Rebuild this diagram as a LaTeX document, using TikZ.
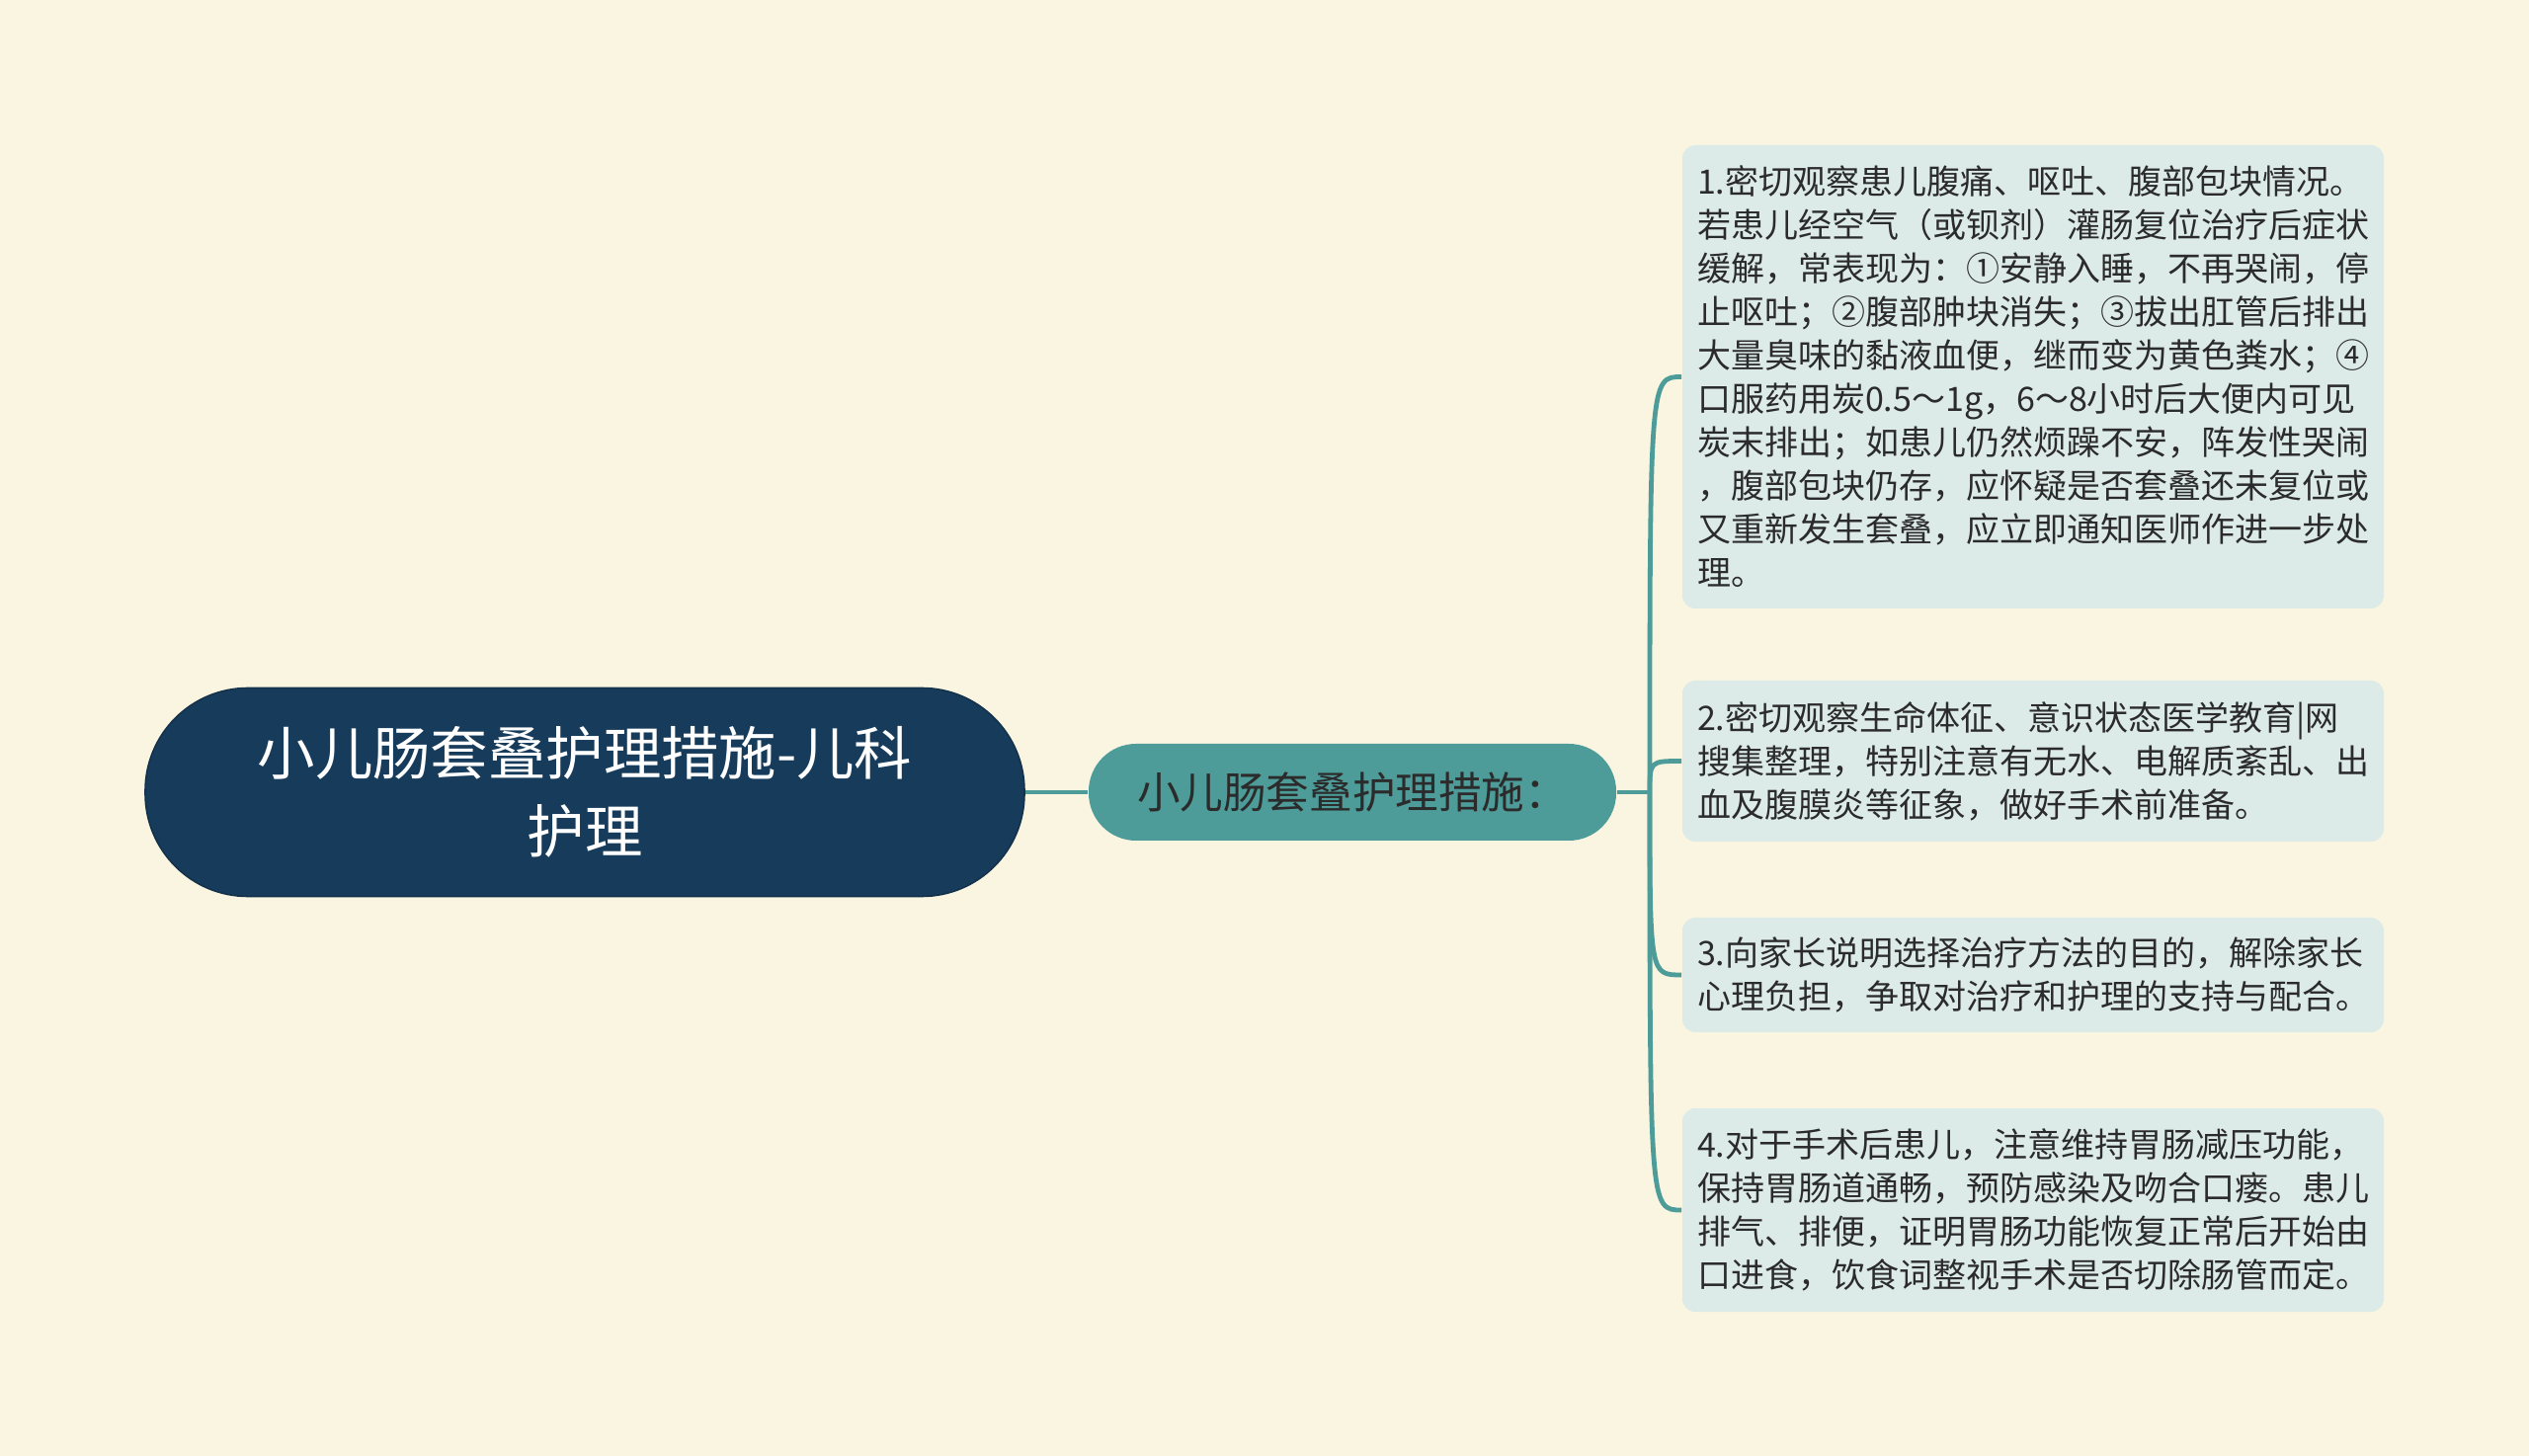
\documentclass[tikz,border=0pt]{standalone}
\usepackage{fontspec}
\newfontfamily\cjk{Noto Sans CJK SC}
\usepackage{tikz}
\definecolor{bgcol}{HTML}{F9F5E0}
\definecolor{rootcol}{HTML}{173B5A}
\definecolor{midcol}{HTML}{4E9C99}
\definecolor{leafcol}{HTML}{DDEBE8}
\definecolor{txtcol}{HTML}{2B2B2B}
\tikzset{rootnode/.style = {draw=rootcol!85!black, fill=rootcol, text=white, rounded corners=26pt,
    minimum width=222.5pt, minimum height=52.75pt, align=center,
    font={\cjk\fontsize{14.6}{19.6}\selectfont}}}
\tikzset{midnode/.style = {fill=midcol, text=txtcol, rounded corners=12pt,
    minimum width=133.5pt, minimum height=24.5pt,
    font={\cjk\fontsize{10.9}{12}\selectfont}}}
\tikzset{leafnode/.style = {fill=leafcol, text=txtcol, rounded corners=3.3pt,
    text width=170pt, inner xsep=3.75pt, align=left,
    font={\cjk\fontsize{8.5}{11}\selectfont}}}
\tikzset{branch/.style = {draw=midcol, line width=1.2pt}}

\begin{document}
\begin{tikzpicture}[x=0.25pt, y=-0.25pt]
    \fill[bgcol] (0,0) rectangle (2560,1474);

    \node[rootnode] (root) at (592,802) {小儿肠套叠护理措施-儿科\\护理};
    \node[midnode] (mid) at (1369,802) {小儿肠套叠护理措施：};
    \coordinate (hub) at (1670,802);

    \node[leafnode, minimum height=117.25pt] (n1) at (2058,381.5) {1.密切观察患儿腹痛、呕吐、腹部包块情况。\\
        若患儿经空气（或钡剂）灌肠复位治疗后症状\\
        缓解，常表现为：①安静入睡，不再哭闹，停\\
        止呕吐；②腹部肿块消失；③拔出肛管后排出\\
        大量臭味的黏液血便，继而变为黄色粪水；④\\
        口服药用炭0.5～1g，6～8小时后大便内可见\\
        炭末排出；如患儿仍然烦躁不安，阵发性哭闹\\
        ，腹部包块仍存，应怀疑是否套叠还未复位或\\
        又重新发生套叠，应立即通知医师作进一步处\\
        理。};
    \node[leafnode, minimum height=40.75pt] (n2) at (2058,770.5) {2.密切观察生命体征、意识状态医学教育|网\\
        搜集整理，特别注意有无水、电解质紊乱、出\\
        血及腹膜炎等征象，做好手术前准备。};
    \node[leafnode, minimum height=29pt] (n3) at (2058,987) {3.向家长说明选择治疗方法的目的，解除家长\\
        心理负担，争取对治疗和护理的支持与配合。};
    \node[leafnode, minimum height=51.5pt] (n4) at (2058,1225) {4.对于手术后患儿，注意维持胃肠减压功能，\\
        保持胃肠道通畅，预防感染及吻合口瘘。患儿\\
        排气、排便，证明胃肠功能恢复正常后开始由\\
        口进食，饮食词整视手术是否切除肠管而定。};

    \draw[branch] (root) -- (mid);
    \draw[branch] (mid) -- (hub);
    \foreach \n in {n1,n2,n3,n4}
        \draw[branch] (hub) .. controls (hub |- \n.west) .. (\n.west);
\end{tikzpicture}
\end{document}
